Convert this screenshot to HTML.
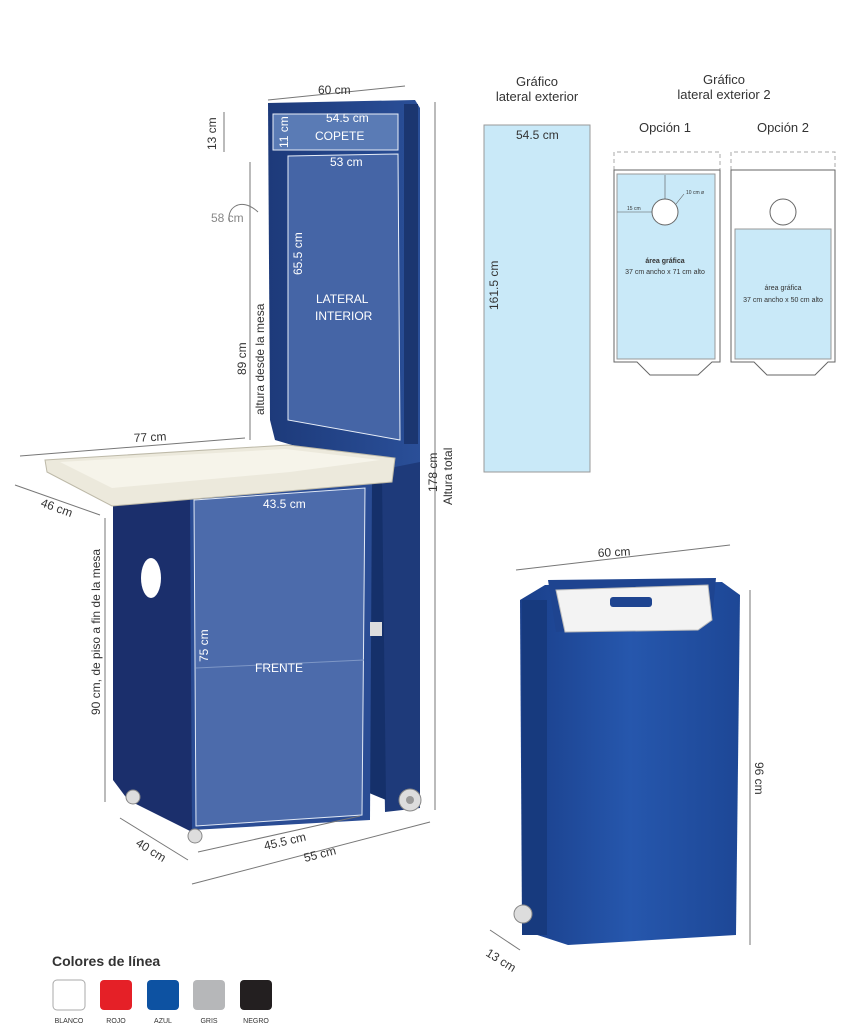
<!DOCTYPE html>
<html><head><meta charset="utf-8"><style>
body{margin:0;background:#fff}
svg{display:block}
text{font-family:"Liberation Sans",sans-serif}
</style></head><body>
<svg width="863" height="1024" viewBox="0 0 863 1024" xmlns="http://www.w3.org/2000/svg">
<defs>
<linearGradient id="pn" x1="0" x2="1"><stop offset="0" stop-color="#1d3a7a"/><stop offset="1" stop-color="#2a4f98"/></linearGradient>
<linearGradient id="fold" x1="0" x2="1"><stop offset="0" stop-color="#1a3f8a"/><stop offset="0.5" stop-color="#2657ad"/><stop offset="1" stop-color="#1d4796"/></linearGradient>
</defs>
<!-- Tall back panel -->
<polygon points="268,103 415,100 420,108 420,470 398,470 292,445 275,440 270,420" fill="url(#pn)"/>
<rect x="404" y="104" width="14" height="340" fill="#1b3670"/>
<rect x="273" y="114" width="125" height="36" fill="#5a7bb5" stroke="#e8eef8" stroke-width="1"/>
<polygon points="288,156 398,154 400,440 288,420" fill="#4565a6" stroke="#e8eef8" stroke-width="1"/>
<!-- right post -->
<polygon points="380,470 420,462 420,808 385,812" fill="#1e3a7a"/>
<polygon points="360,480 382,478 386,800 362,790" fill="#15306a"/>
<circle cx="410" cy="800" r="11" fill="#ddd" stroke="#888"/>
<circle cx="410" cy="800" r="4" fill="#999"/>
<!-- cabinet -->
<polygon points="113,505 192,498 192,832 128,800 113,780" fill="#1b2f6c"/>
<polygon points="190,495 372,480 370,820 192,830" fill="#2a4c94"/>
<polygon points="194,500 365,488 362,815 196,826" fill="#4c6bab" stroke="#e0e8f5" stroke-width="1"/>
<line x1="196" y1="668" x2="364" y2="660" stroke="#7e97c6" stroke-width="1"/>
<ellipse cx="151" cy="578" rx="10" ry="20" fill="#fff"/>
<circle cx="133" cy="797" r="7" fill="#ddd" stroke="#888"/>
<circle cx="195" cy="836" r="7" fill="#ddd" stroke="#888"/>
<rect x="370" y="622" width="12" height="14" fill="#ddd"/>
<!-- table top -->
<polygon points="45,460 288,445 395,458 392,482 112,506 47,472" fill="#ece9dc" stroke="#bdb9a8"/>
<polygon points="60,462 285,449 380,460 290,472 112,488" fill="#f6f4ea"/>
<!-- dimension lines left -->
<g stroke="#777" stroke-width="1" fill="none">
<line x1="268" y1="100" x2="405" y2="86"/>
<line x1="224" y1="112" x2="224" y2="152"/>
<line x1="250" y1="162" x2="250" y2="440"/>
<line x1="20" y1="456" x2="245" y2="438"/>
<line x1="15" y1="485" x2="100" y2="515"/>
<line x1="105" y1="518" x2="105" y2="802"/>
<line x1="120" y1="818" x2="188" y2="860"/>
<line x1="198" y1="852" x2="360" y2="816"/>
<line x1="192" y1="884" x2="430" y2="822"/>
<line x1="435" y1="102" x2="435" y2="810"/>
<path d="M258,212 C240,195 225,210 230,222"/>
<line x1="516" y1="570" x2="730" y2="545"/>
<line x1="750" y1="590" x2="750" y2="945"/>
<line x1="490" y1="930" x2="520" y2="950"/>
</g>
<g font-size="12" fill="#333">
<text x="318" y="94">60 cm</text>
<text x="326" y="122" fill="#fff">54.5 cm</text>
<text x="315" y="140" fill="#fff">COPETE</text>
<text x="330" y="166" fill="#fff">53 cm</text>
<text x="316" y="303" fill="#fff">LATERAL</text>
<text x="315" y="320" fill="#fff">INTERIOR</text>
<text x="263" y="508" fill="#fff">43.5 cm</text>
<text x="255" y="672" fill="#fff">FRENTE</text>
<text x="211" y="222" fill="#888">58 cm</text>
<text x="134" y="442" transform="rotate(-3 134 442)">77 cm</text>
<text x="40" y="506" transform="rotate(20 40 506)">46 cm</text>
<text x="135" y="845" transform="rotate(32 135 845)">40 cm</text>
<text x="265" y="850" transform="rotate(-13 265 850)">45.5 cm</text>
<text x="305" y="862" transform="rotate(-14 305 862)">55 cm</text>
<text x="216" y="150" transform="rotate(-90 216 150)">13 cm</text>
<text x="288" y="148" fill="#fff" transform="rotate(-90 288 148)">11 cm</text>
<text x="302" y="275" fill="#fff" transform="rotate(-90 302 275)">65.5 cm</text>
<text x="208" y="662" fill="#fff" transform="rotate(-90 208 662)">75 cm</text>
<text x="246" y="375" transform="rotate(-90 246 375)">89 cm</text>
<text x="264" y="415" transform="rotate(-90 264 415)">altura desde la mesa</text>
<text x="100" y="715" transform="rotate(-90 100 715)">90 cm, de piso a fin de la mesa</text>
<text x="437" y="492" transform="rotate(-90 437 492)">178 cm</text>
<text x="452" y="505" transform="rotate(-90 452 505)">Altura total</text>
<text x="598" y="557" transform="rotate(-3 598 557)">60 cm</text>
<text x="755" y="762" transform="rotate(90 755 762)">96 cm</text>
<text x="485" y="955" transform="rotate(32 485 955)">13 cm</text>
</g>
<!-- Right graphics -->
<g font-size="13" fill="#333" text-anchor="middle">
<text x="537" y="86">Gráfico</text><text x="537" y="101">lateral exterior</text>
<text x="724" y="84">Gráfico</text><text x="724" y="99">lateral exterior 2</text>
<text x="665" y="132">Opción 1</text><text x="783" y="132">Opción 2</text>
</g>
<rect x="484" y="125" width="106" height="347" fill="#c9e9f8" stroke="#999"/>
<text x="516" y="139" font-size="12" fill="#333">54.5 cm</text>
<text x="498" y="310" font-size="12" fill="#333" transform="rotate(-90 498 310)">161.5 cm</text>
<g stroke="#aaa" fill="none" stroke-dasharray="4,3">
<path d="M614,170 V152 H720 V170"/><path d="M731,170 V152 H835 V170"/>
</g>
<g stroke="#666" fill="#fff">
<path d="M614,170 H720 V362 L712,362 698,375 H650 L637,362 H614 Z"/>
<path d="M731,170 H835 V362 L828,362 815,375 H767 L754,362 H731 Z"/>
</g>
<rect x="617" y="174" width="98" height="185" fill="#c9e9f8" stroke="#999"/>
<rect x="735" y="229" width="96" height="130" fill="#c9e9f8" stroke="#999"/>
<circle cx="665" cy="212" r="13" fill="#fff" stroke="#666"/>
<circle cx="783" cy="212" r="13" fill="#fff" stroke="#666"/>
<g stroke="#555" stroke-width=".6"><line x1="665" y1="175" x2="665" y2="199"/><line x1="617" y1="212" x2="652" y2="212"/><line x1="676" y1="204" x2="684" y2="194"/></g>
<g font-size="5" fill="#333"><text x="627" y="210">15 cm</text><text x="686" y="194">10 cm ø</text></g>
<g font-size="7" fill="#333" text-anchor="middle">
<text x="665" y="263" font-weight="bold">área gráfica</text><text x="665" y="274">37 cm ancho x 71 cm alto</text>
<text x="783" y="290">área gráfica</text><text x="783" y="302">37 cm ancho x 50 cm alto</text>
</g>
<!-- folded product -->
<polygon points="520,600 545,585 722,582 740,595 736,935 568,945 522,930" fill="url(#fold)"/>
<rect x="522" y="600" width="25" height="335" fill="#173a7e"/>
<polygon points="548,580 716,578 712,620 556,632" fill="#1e4490"/>
<polygon points="556,590 708,585 712,620 698,630 565,632" fill="#f3f3f3" stroke="#bbb"/>
<rect x="610" y="597" width="42" height="10" rx="3" fill="#1e4490"/>
<circle cx="523" cy="914" r="9" fill="#ddd" stroke="#888"/>
<!-- colors -->
<text x="52" y="966" font-size="14" font-weight="bold" fill="#333">Colores de línea</text>
<rect x="53" y="980" width="32" height="30" rx="4" fill="#fff" stroke="#aaa"/>
<rect x="100" y="980" width="32" height="30" rx="4" fill="#e52027"/>
<rect x="147" y="980" width="32" height="30" rx="4" fill="#0d52a2"/>
<rect x="193" y="980" width="32" height="30" rx="4" fill="#b6b7b9"/>
<rect x="240" y="980" width="32" height="30" rx="4" fill="#231f20"/>
<g font-size="7" fill="#333" text-anchor="middle">
<text x="69" y="1023">BLANCO</text><text x="116" y="1023">ROJO</text><text x="163" y="1023">AZUL</text><text x="209" y="1023">GRIS</text><text x="256" y="1023">NEGRO</text>
</g>
</svg>
</body></html>
